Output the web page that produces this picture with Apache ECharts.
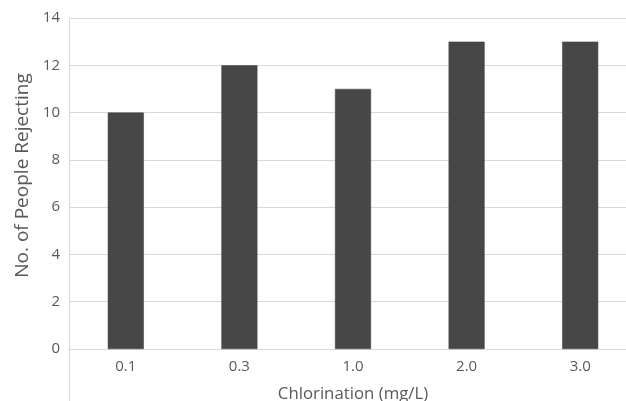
<!DOCTYPE html>
<html>
<head>
<meta charset="utf-8">
<script src="https://cdn.jsdelivr.net/npm/echarts@6/dist/echarts.min.js"></script>
<style>html,body{margin:0;padding:0;background:#fff;}#c{width:626px;height:401px;}</style>
</head>
<body>
<div id="c"></div>
<script>
const categories = ['0.1', '0.3', '1.0', '2.0', '3.0'];
const rejecting = [10, 12, 11, 13, 13];
const yTicks = [0, 2, 4, 6, 8, 10, 12, 14];

const chart = echarts.init(document.getElementById('c'), null, {renderer: 'canvas'});
const font = '"Open Sans", sans-serif';
chart.setOption({
  animation: false,
  backgroundColor: '#fff',
  grid: {left: 69, right: -11, top: 18, bottom: 52, containLabel: false, outerBoundsMode: 'none'},
  xAxis: {
    type: 'category',
    data: categories,
    boundaryGap: true,
    name: 'Chlorination (mg/L)',
    nameLocation: 'middle',
    nameGap: 37,
    nameTextStyle: {color: '#595959', fontSize: 16.8, fontFamily: font},
    axisLine: {show: true, lineStyle: {color: '#d9d9d9', width: 1}},
    axisTick: {show: false},
    axisLabel: {color: '#595959', fontSize: 15, fontFamily: font, margin: 10}
  },
  yAxis: {
    type: 'value',
    min: yTicks[0],
    max: yTicks[yTicks.length - 1],
    interval: 2,
    name: 'No. of People Rejecting',
    nameLocation: 'middle',
    nameGap: 36,
    nameTextStyle: {color: '#595959', fontSize: 19, fontFamily: font, padding: [0, 0, 0, 16]},
    axisLine: {show: false},
    axisTick: {show: false},
    axisLabel: {color: '#595959', fontSize: 15, fontFamily: font, margin: 9},
    splitLine: {show: true, lineStyle: {color: '#d9d9d9', width: 1}}
  },
  series: [{
    type: 'bar',
    data: rejecting,
    barWidth: 36,
    itemStyle: {color: '#474747', borderColor: '#3c3c3c', borderWidth: 0.5}
  }],
  graphic: [{
    type: 'line',
    shape: {x1: 69.5, y1: 18, x2: 69.5, y2: 401},
    style: {stroke: '#d9d9d9', lineWidth: 1},
    silent: true
  }]
});
</script>
</body>
</html>
